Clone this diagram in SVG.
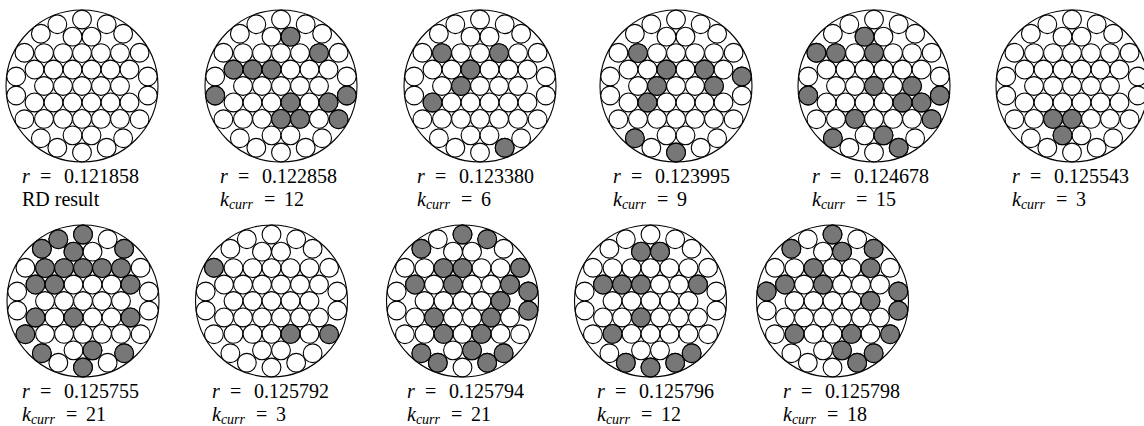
<svg xmlns="http://www.w3.org/2000/svg" xmlns:xlink="http://www.w3.org/1999/xlink" width="1144" height="426" viewBox="0 0 1144 426">
<style>
.o{fill:none;stroke:#000;stroke-width:1.1}
.w circle{fill:#fff;stroke:#000;stroke-width:1.1}
.k{fill:#777;stroke:#000;stroke-width:1.1}
.t{font-family:"Liberation Serif","Times New Roman",serif;font-size:20px;fill:#000}
.i{font-style:italic}
.s{font-size:14px;font-style:italic}
</style>
<defs>
<g id="pack" class="w">
<circle cx="-38" cy="0" r="9.4"/><circle cx="-19" cy="0" r="9.4"/><circle cx="0" cy="0" r="9.4"/><circle cx="19" cy="0" r="9.4"/><circle cx="38" cy="0" r="9.4"/>
<circle cx="-47.5" cy="16.45" r="9.4"/><circle cx="-28.5" cy="16.45" r="9.4"/><circle cx="-9.5" cy="16.45" r="9.4"/><circle cx="9.5" cy="16.45" r="9.4"/><circle cx="28.5" cy="16.45" r="9.4"/><circle cx="47.5" cy="16.45" r="9.4"/>
<circle cx="-47.5" cy="-16.45" r="9.4"/><circle cx="-28.5" cy="-16.45" r="9.4"/><circle cx="-9.5" cy="-16.45" r="9.4"/><circle cx="9.5" cy="-16.45" r="9.4"/><circle cx="28.5" cy="-16.45" r="9.4"/><circle cx="47.5" cy="-16.45" r="9.4"/>
<circle cx="-38" cy="32.9" r="9.4"/><circle cx="-19" cy="32.9" r="9.4"/><circle cx="0" cy="32.9" r="9.4"/><circle cx="19" cy="32.9" r="9.4"/><circle cx="38" cy="32.9" r="9.4"/>
<circle cx="-38" cy="-32.9" r="9.4"/><circle cx="-19" cy="-32.9" r="9.4"/><circle cx="0" cy="-32.9" r="9.4"/><circle cx="19" cy="-32.9" r="9.4"/><circle cx="38" cy="-32.9" r="9.4"/>
<circle cx="-9.5" cy="49.36" r="9.4"/><circle cx="9.5" cy="49.36" r="9.4"/><circle cx="-9.5" cy="-49.36" r="9.4"/><circle cx="9.5" cy="-49.36" r="9.4"/>
<circle cx="65.82" cy="9.51" r="9.4"/><circle cx="65.82" cy="-9.51" r="9.4"/><circle cx="57.59" cy="33.25" r="9.4"/><circle cx="41.14" cy="52.25" r="9.4"/><circle cx="24.67" cy="61.75" r="9.4"/><circle cx="0" cy="66.5" r="9.4"/>
<circle cx="-24.67" cy="61.75" r="9.4"/><circle cx="-41.14" cy="52.25" r="9.4"/><circle cx="-57.59" cy="33.25" r="9.4"/><circle cx="-65.82" cy="9.51" r="9.4"/><circle cx="-65.82" cy="-9.51" r="9.4"/><circle cx="-57.59" cy="-33.25" r="9.4"/>
<circle cx="-41.14" cy="-52.25" r="9.4"/><circle cx="-24.67" cy="-61.75" r="9.4"/><circle cx="0" cy="-66.5" r="9.4"/><circle cx="24.67" cy="-61.75" r="9.4"/><circle cx="41.14" cy="-52.25" r="9.4"/><circle cx="57.59" cy="-33.25" r="9.4"/>
</g>
</defs>

<g id="connectors"></g>

<g id="panel1">
<g transform="translate(82,86)"><circle class="o" r="76"/><use href="#pack"/></g>
<g transform="translate(22,183)"><text class="t"><tspan class="i" x="0">r</tspan><tspan x="18">=</tspan><tspan x="42">0.121858</tspan></text><text class="t" y="23" x="0">RD result</text></g>
</g>

<g id="panel2">
<g transform="translate(281,86)"><circle class="o" r="76"/><use href="#pack"/>
<circle class="k" cx="9.5" cy="-49.36" r="9.4"/><circle class="k" cx="38" cy="-32.9" r="9.4"/><circle class="k" cx="-47.5" cy="-16.45" r="9.4"/><circle class="k" cx="-28.5" cy="-16.45" r="9.4"/><circle class="k" cx="-9.5" cy="-16.45" r="9.4"/><circle class="k" cx="-65.82" cy="9.51" r="9.4"/><circle class="k" cx="9.5" cy="16.45" r="9.4"/><circle class="k" cx="47.5" cy="16.45" r="9.4"/><circle class="k" cx="65.82" cy="9.51" r="9.4"/><circle class="k" cx="19" cy="32.9" r="9.4"/><circle class="k" cx="57.59" cy="33.25" r="9.4"/><circle class="k" cx="0" cy="32.9" r="9.4"/>
</g>
<g transform="translate(220,183)"><text class="t"><tspan class="i" x="0">r</tspan><tspan x="18">=</tspan><tspan x="42">0.122858</tspan></text><text class="t" y="23"><tspan class="i" x="0">k</tspan><tspan class="s" dy="3">curr</tspan><tspan x="44" dy="-3">=</tspan><tspan x="64">12</tspan></text></g>
</g>

<g id="panel3">
<g transform="translate(480,86)"><circle class="o" r="76"/><use href="#pack"/>
<circle class="k" cx="-38" cy="-32.9" r="9.4"/><circle class="k" cx="19" cy="-32.9" r="9.4"/><circle class="k" cx="-9.5" cy="-16.45" r="9.4"/><circle class="k" cx="-47.5" cy="16.45" r="9.4"/><circle class="k" cx="-19" cy="0" r="9.4"/><circle class="k" cx="24.67" cy="61.75" r="9.4"/>
</g>
<g transform="translate(417,183)"><text class="t"><tspan class="i" x="0">r</tspan><tspan x="18">=</tspan><tspan x="42">0.123380</tspan></text><text class="t" y="23"><tspan class="i" x="0">k</tspan><tspan class="s" dy="3">curr</tspan><tspan x="44" dy="-3">=</tspan><tspan x="64">6</tspan></text></g>
</g>

<g id="panel4">
<g transform="translate(676,86)"><circle class="o" r="76"/><use href="#pack"/>
<circle class="k" cx="-38" cy="-32.9" r="9.4"/><circle class="k" cx="-9.5" cy="-16.45" r="9.4"/><circle class="k" cx="28.5" cy="-16.45" r="9.4"/><circle class="k" cx="38" cy="0" r="9.4"/><circle class="k" cx="65.82" cy="-9.51" r="9.4"/><circle class="k" cx="-19" cy="0" r="9.4"/><circle class="k" cx="-28.5" cy="16.45" r="9.4"/><circle class="k" cx="-41.14" cy="52.25" r="9.4"/><circle class="k" cx="0" cy="66.5" r="9.4"/>
</g>
<g transform="translate(613,183)"><text class="t"><tspan class="i" x="0">r</tspan><tspan x="18">=</tspan><tspan x="42">0.123995</tspan></text><text class="t" y="23"><tspan class="i" x="0">k</tspan><tspan class="s" dy="3">curr</tspan><tspan x="44" dy="-3">=</tspan><tspan x="64">9</tspan></text></g>
</g>

<g id="panel5">
<g transform="translate(874,86)"><circle class="o" r="76"/><use href="#pack"/>
<circle class="k" cx="-57.59" cy="-33.25" r="9.4"/><circle class="k" cx="-38" cy="-32.9" r="9.4"/><circle class="k" cx="-9.5" cy="-49.36" r="9.4"/><circle class="k" cx="0" cy="-32.9" r="9.4"/><circle class="k" cx="-65.82" cy="9.51" r="9.4"/><circle class="k" cx="38" cy="0" r="9.4"/><circle class="k" cx="47.5" cy="16.45" r="9.4"/><circle class="k" cx="0" cy="0" r="9.4"/><circle class="k" cx="28.5" cy="16.45" r="9.4"/><circle class="k" cx="65.82" cy="9.51" r="9.4"/><circle class="k" cx="57.59" cy="33.25" r="9.4"/><circle class="k" cx="-19" cy="32.9" r="9.4"/><circle class="k" cx="-41.14" cy="52.25" r="9.4"/><circle class="k" cx="9.5" cy="49.36" r="9.4"/><circle class="k" cx="24.67" cy="61.75" r="9.4"/>
</g>
<g transform="translate(812,183)"><text class="t"><tspan class="i" x="0">r</tspan><tspan x="18">=</tspan><tspan x="42">0.124678</tspan></text><text class="t" y="23"><tspan class="i" x="0">k</tspan><tspan class="s" dy="3">curr</tspan><tspan x="44" dy="-3">=</tspan><tspan x="64">15</tspan></text></g>
</g>

<g id="panel6">
<g transform="translate(1072,86)"><circle class="o" r="76"/><use href="#pack"/>
<circle class="k" cx="-9.5" cy="49.36" r="9.4"/><circle class="k" cx="-19" cy="32.9" r="9.4"/><circle class="k" cx="0" cy="32.9" r="9.4"/>
</g>
<g transform="translate(1012,183)"><text class="t"><tspan class="i" x="0">r</tspan><tspan x="18">=</tspan><tspan x="42">0.125543</tspan></text><text class="t" y="23"><tspan class="i" x="0">k</tspan><tspan class="s" dy="3">curr</tspan><tspan x="44" dy="-3">=</tspan><tspan x="64">3</tspan></text></g>
</g>

<g id="panel7">
<g transform="translate(83,301)"><circle class="o" r="76"/><use href="#pack"/>
<circle class="k" cx="-24.67" cy="-61.75" r="9.4"/><circle class="k" cx="0" cy="-66.5" r="9.4"/><circle class="k" cx="-41.14" cy="-52.25" r="9.4"/><circle class="k" cx="-9.5" cy="-49.36" r="9.4"/><circle class="k" cx="41.14" cy="-52.25" r="9.4"/><circle class="k" cx="-38" cy="-32.9" r="9.4"/><circle class="k" cx="-19" cy="-32.9" r="9.4"/><circle class="k" cx="0" cy="-32.9" r="9.4"/><circle class="k" cx="19" cy="-32.9" r="9.4"/><circle class="k" cx="38" cy="-32.9" r="9.4"/><circle class="k" cx="-47.5" cy="-16.45" r="9.4"/><circle class="k" cx="-28.5" cy="-16.45" r="9.4"/><circle class="k" cx="47.5" cy="-16.45" r="9.4"/><circle class="k" cx="-9.5" cy="16.45" r="9.4"/><circle class="k" cx="-47.5" cy="16.45" r="9.4"/><circle class="k" cx="-57.59" cy="33.25" r="9.4"/><circle class="k" cx="47.5" cy="16.45" r="9.4"/><circle class="k" cx="9.5" cy="49.36" r="9.4"/><circle class="k" cx="41.14" cy="52.25" r="9.4"/><circle class="k" cx="-41.14" cy="52.25" r="9.4"/><circle class="k" cx="0" cy="66.5" r="9.4"/>
</g>
<g transform="translate(22,398)"><text class="t"><tspan class="i" x="0">r</tspan><tspan x="18">=</tspan><tspan x="42">0.125755</tspan></text><text class="t" y="23"><tspan class="i" x="0">k</tspan><tspan class="s" dy="3">curr</tspan><tspan x="44" dy="-3">=</tspan><tspan x="64">21</tspan></text></g>
</g>

<g id="panel8">
<g transform="translate(271.5,301)"><circle class="o" r="76"/><use href="#pack"/>
<circle class="k" cx="-57.59" cy="-33.25" r="9.4"/><circle class="k" cx="19" cy="32.9" r="9.4"/><circle class="k" cx="57.59" cy="33.25" r="9.4"/>
</g>
<g transform="translate(212,398)"><text class="t"><tspan class="i" x="0">r</tspan><tspan x="18">=</tspan><tspan x="42">0.125792</tspan></text><text class="t" y="23"><tspan class="i" x="0">k</tspan><tspan class="s" dy="3">curr</tspan><tspan x="44" dy="-3">=</tspan><tspan x="64">3</tspan></text></g>
</g>

<g id="panel9">
<g transform="translate(462.5,301)"><circle class="o" r="76"/><use href="#pack"/>
<circle class="k" cx="0" cy="-66.5" r="9.4"/><circle class="k" cx="24.67" cy="-61.75" r="9.4"/><circle class="k" cx="-41.14" cy="-52.25" r="9.4"/><circle class="k" cx="-19" cy="-32.9" r="9.4"/><circle class="k" cx="0" cy="-32.9" r="9.4"/><circle class="k" cx="57.59" cy="-33.25" r="9.4"/><circle class="k" cx="-47.5" cy="-16.45" r="9.4"/><circle class="k" cx="-9.5" cy="-16.45" r="9.4"/><circle class="k" cx="47.5" cy="-16.45" r="9.4"/><circle class="k" cx="65.82" cy="-9.51" r="9.4"/><circle class="k" cx="38" cy="0" r="9.4"/><circle class="k" cx="65.82" cy="9.51" r="9.4"/><circle class="k" cx="28.5" cy="16.45" r="9.4"/><circle class="k" cx="-28.5" cy="16.45" r="9.4"/><circle class="k" cx="-19" cy="32.9" r="9.4"/><circle class="k" cx="9.5" cy="49.36" r="9.4"/><circle class="k" cx="19" cy="32.9" r="9.4"/><circle class="k" cx="41.14" cy="52.25" r="9.4"/><circle class="k" cx="-41.14" cy="52.25" r="9.4"/><circle class="k" cx="-24.67" cy="61.75" r="9.4"/><circle class="k" cx="24.67" cy="61.75" r="9.4"/>
</g>
<g transform="translate(407,398)"><text class="t"><tspan class="i" x="0">r</tspan><tspan x="18">=</tspan><tspan x="42">0.125794</tspan></text><text class="t" y="23"><tspan class="i" x="0">k</tspan><tspan class="s" dy="3">curr</tspan><tspan x="44" dy="-3">=</tspan><tspan x="64">21</tspan></text></g>
</g>

<g id="panel10">
<g transform="translate(650.5,301)"><circle class="o" r="76"/><use href="#pack"/>
<circle class="k" cx="-9.5" cy="-49.36" r="9.4"/><circle class="k" cx="9.5" cy="-49.36" r="9.4"/><circle class="k" cx="-28.5" cy="-16.45" r="9.4"/><circle class="k" cx="-9.5" cy="-16.45" r="9.4"/><circle class="k" cx="47.5" cy="-16.45" r="9.4"/><circle class="k" cx="-47.5" cy="-16.45" r="9.4"/><circle class="k" cx="-9.5" cy="16.45" r="9.4"/><circle class="k" cx="-38" cy="32.9" r="9.4"/><circle class="k" cx="41.14" cy="52.25" r="9.4"/><circle class="k" cx="24.67" cy="61.75" r="9.4"/><circle class="k" cx="0" cy="66.5" r="9.4"/><circle class="k" cx="-24.67" cy="61.75" r="9.4"/>
</g>
<g transform="translate(597,398)"><text class="t"><tspan class="i" x="0">r</tspan><tspan x="18">=</tspan><tspan x="42">0.125796</tspan></text><text class="t" y="23"><tspan class="i" x="0">k</tspan><tspan class="s" dy="3">curr</tspan><tspan x="44" dy="-3">=</tspan><tspan x="64">12</tspan></text></g>
</g>

<g id="panel11">
<g transform="translate(832.5,301)"><circle class="o" r="76"/><use href="#pack"/>
<circle class="k" cx="0" cy="-66.5" r="9.4"/><circle class="k" cx="-41.14" cy="-52.25" r="9.4"/><circle class="k" cx="9.5" cy="-49.36" r="9.4"/><circle class="k" cx="41.14" cy="-52.25" r="9.4"/><circle class="k" cx="-19" cy="-32.9" r="9.4"/><circle class="k" cx="-47.5" cy="-16.45" r="9.4"/><circle class="k" cx="-65.82" cy="-9.51" r="9.4"/><circle class="k" cx="38" cy="-32.9" r="9.4"/><circle class="k" cx="-9.5" cy="-16.45" r="9.4"/><circle class="k" cx="65.82" cy="-9.51" r="9.4"/><circle class="k" cx="38" cy="0" r="9.4"/><circle class="k" cx="65.82" cy="9.51" r="9.4"/><circle class="k" cx="57.59" cy="33.25" r="9.4"/><circle class="k" cx="-38" cy="32.9" r="9.4"/><circle class="k" cx="9.5" cy="49.36" r="9.4"/><circle class="k" cx="19" cy="32.9" r="9.4"/><circle class="k" cx="41.14" cy="52.25" r="9.4"/><circle class="k" cx="24.67" cy="61.75" r="9.4"/>
</g>
<g transform="translate(783,398)"><text class="t"><tspan class="i" x="0">r</tspan><tspan x="18">=</tspan><tspan x="42">0.125798</tspan></text><text class="t" y="23"><tspan class="i" x="0">k</tspan><tspan class="s" dy="3">curr</tspan><tspan x="44" dy="-3">=</tspan><tspan x="64">18</tspan></text></g>
</g>
</svg>
